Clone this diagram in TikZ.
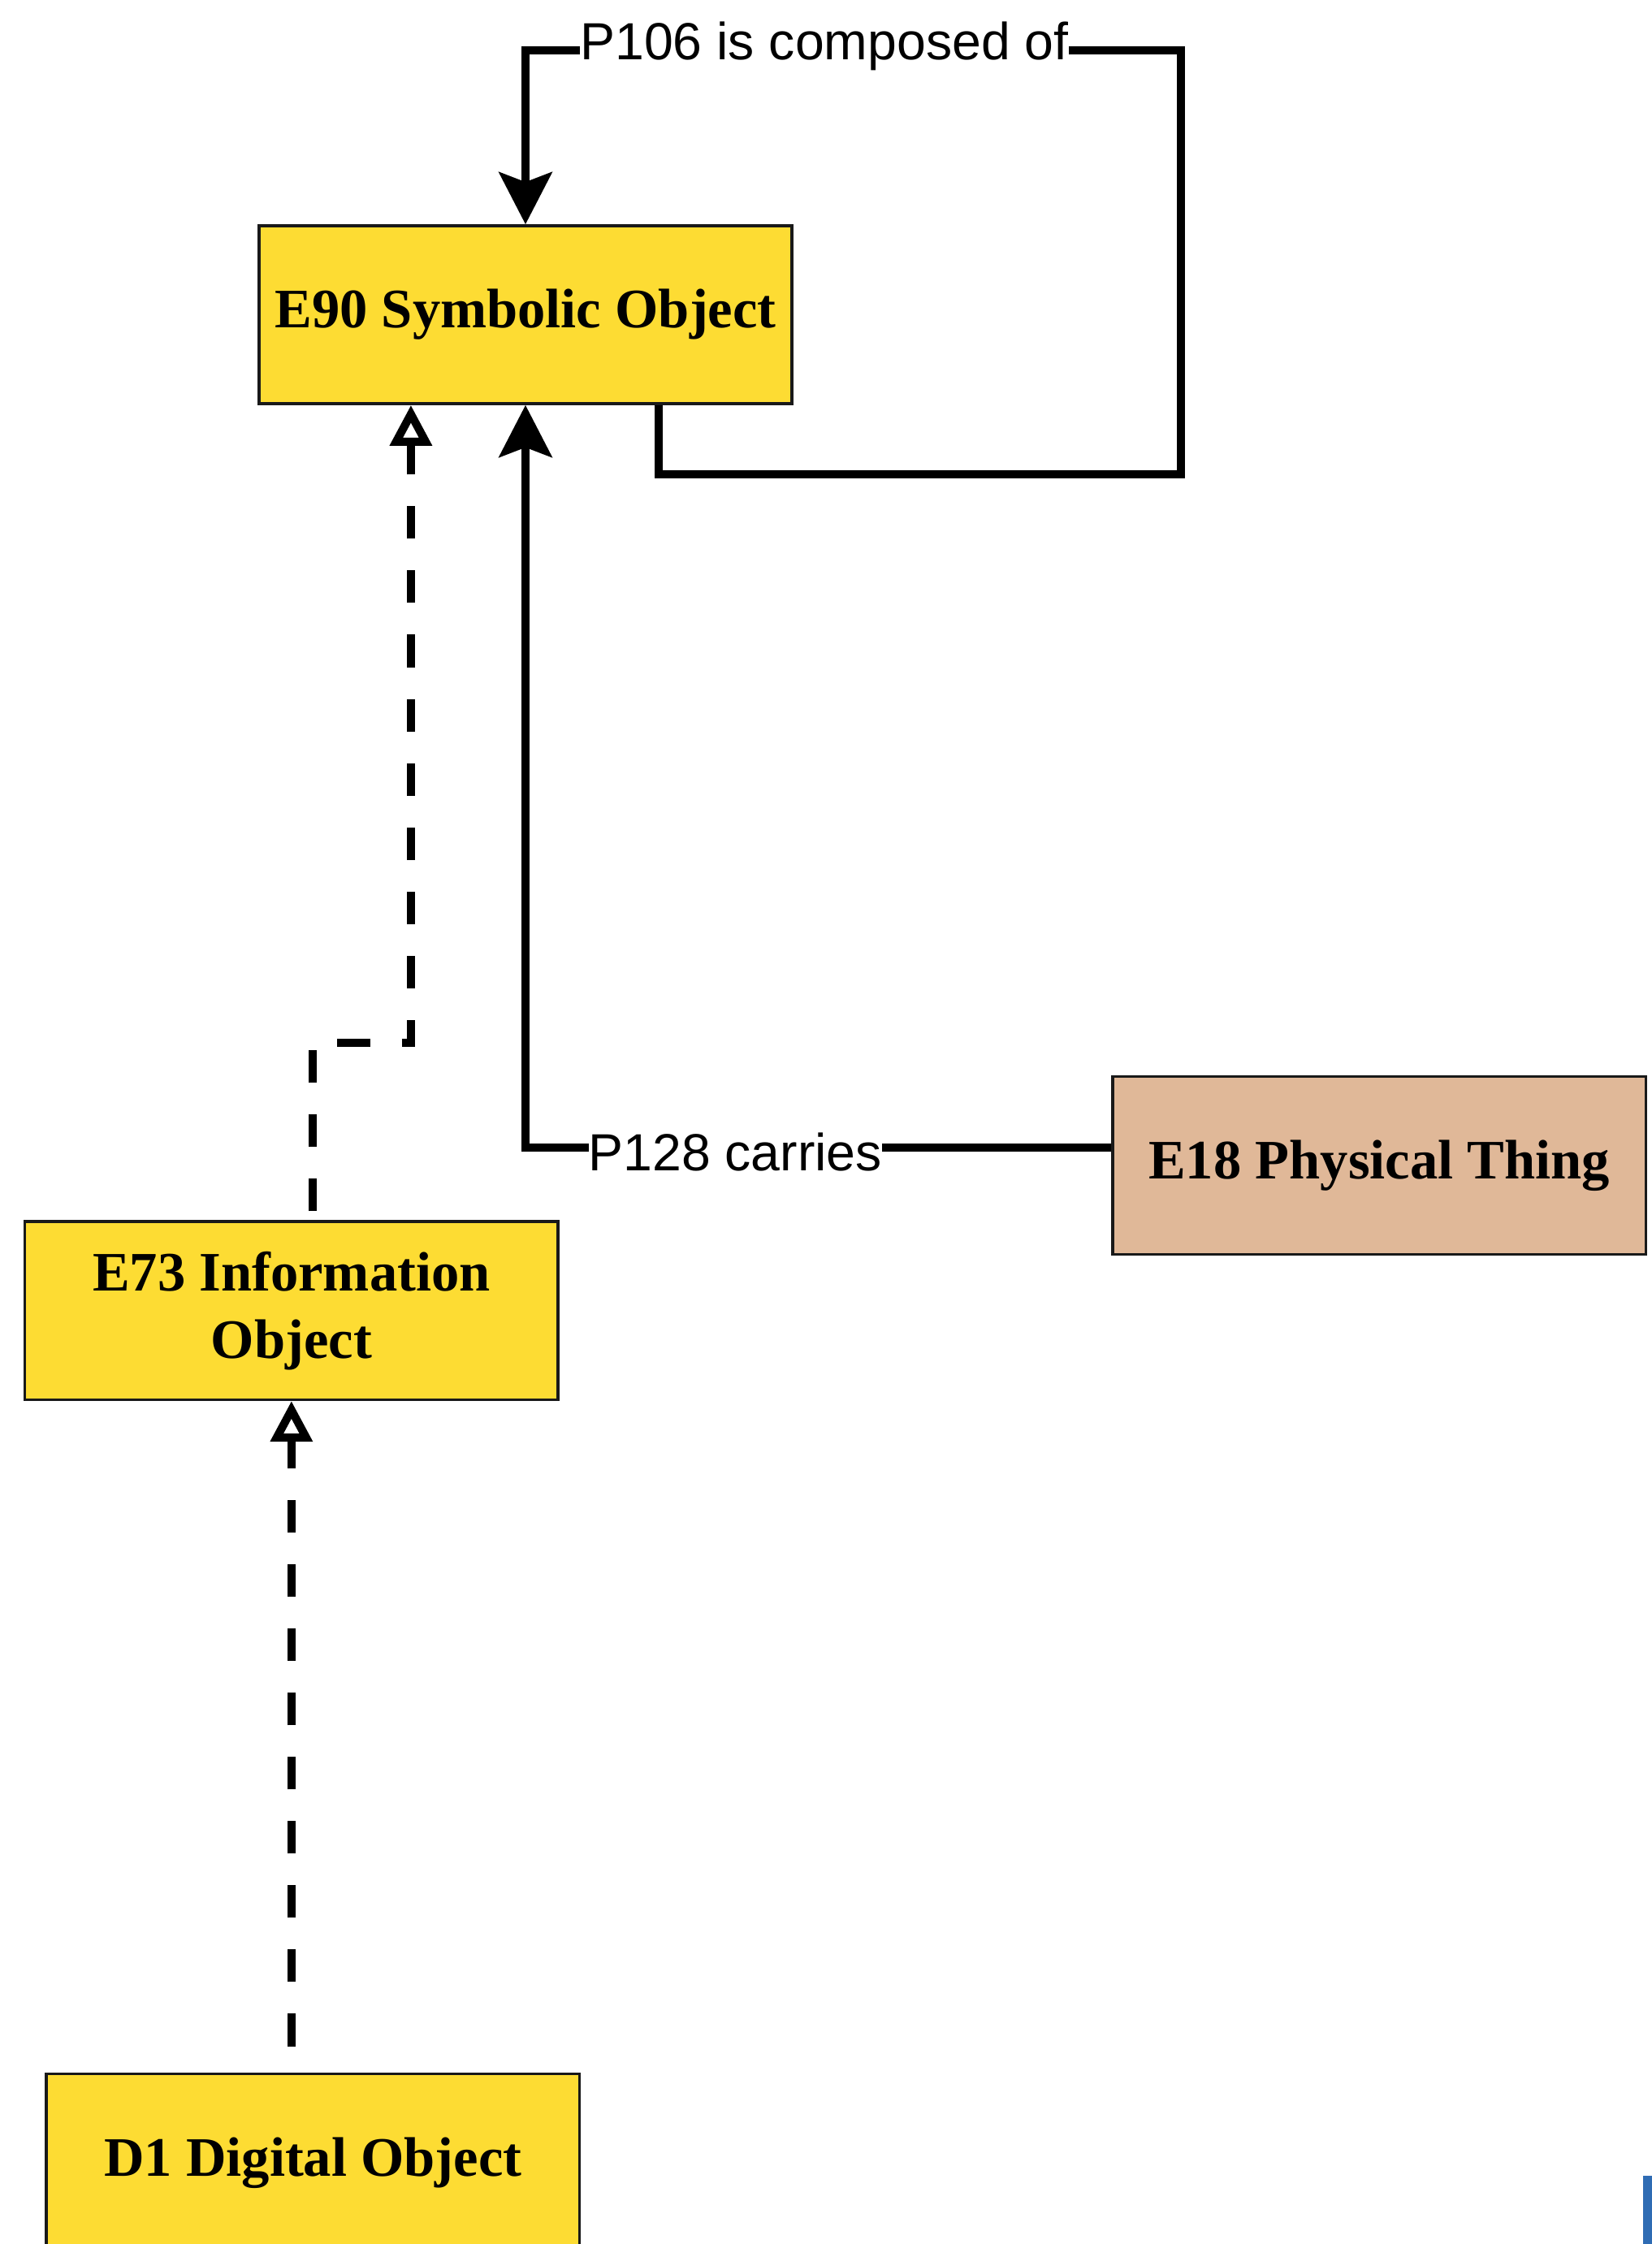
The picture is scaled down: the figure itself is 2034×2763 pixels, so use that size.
\documentclass[tikz,border=0pt]{standalone}
\usepackage{fontspec}
\setmainfont{Liberation Serif}
\setsansfont{Liberation Sans}
\usetikzlibrary{arrows.meta,positioning}
\definecolor{ClassYellow}{HTML}{FDDC33}
\definecolor{ThingTan}{HTML}{E0B898}
\definecolor{EdgeBlue}{HTML}{2F6CB4}

\begin{document}
\begin{tikzpicture}[x=0.01cm,y=-0.01cm,
    entity/.style={rectangle,draw=black!90,line width=0.035cm,fill=ClassYellow,minimum width=6.56cm,minimum height=2.19cm,inner sep=0pt,align=center,font=\bfseries\fontsize{19.5}{23.6}\selectfont},
    prop/.style={-{Stealth[length=0.64cm,width=0.65cm,inset=0.12cm]},line width=0.1cm},
    isa/.style={-{Triangle[open,fill=white,length=0.5cm,width=0.5cm]},line width=0.1cm,dash pattern=on 0.4cm off 0.39cm},
    lbl/.style={fill=white,inner xsep=0pt,inner ysep=3pt,font=\sffamily\fontsize{18.3}{22}\selectfont,text height=13.2pt,text depth=3.8pt}
]
\useasboundingbox (0,0) rectangle (2034,2763);
\node[entity] (e90) at (647,387.5) {E90 Symbolic Object};
\node[entity,below=10.03cm of e90,xshift=-2.88cm] (e73) {E73 Information\\Object};
\node[entity,below=8.26cm of e73,xshift=0.265cm] (d1) {D1 Digital Object};
\node[entity,fill=ThingTan,right=3.91cm of e90,yshift=-10.47cm] (e18) {E18 Physical Thing};
\draw[prop] ([xshift=-1.66cm]e90.south east) -- ++(0,85) -| (1454,62) -| node[lbl,pos=0.272,yshift=1.45pt]{P106 is composed of} (e90.north);
\draw[prop] ([yshift=0.225cm]e18.west) -| node[lbl,pos=0.321,yshift=-3.45pt]{P128 carries} (e90.south);
\draw[isa,dash phase=0.68cm] ([xshift=0.265cm]e73.north) -- ++(0,-218) -| ([xshift=-1.41cm]e90.south);
\draw[isa,dash phase=0.47cm] (d1.north -| e73.south) -- (e73.south);
\fill[EdgeBlue] (2023,2679) rectangle (2034,2763);
\end{tikzpicture}
\end{document}
